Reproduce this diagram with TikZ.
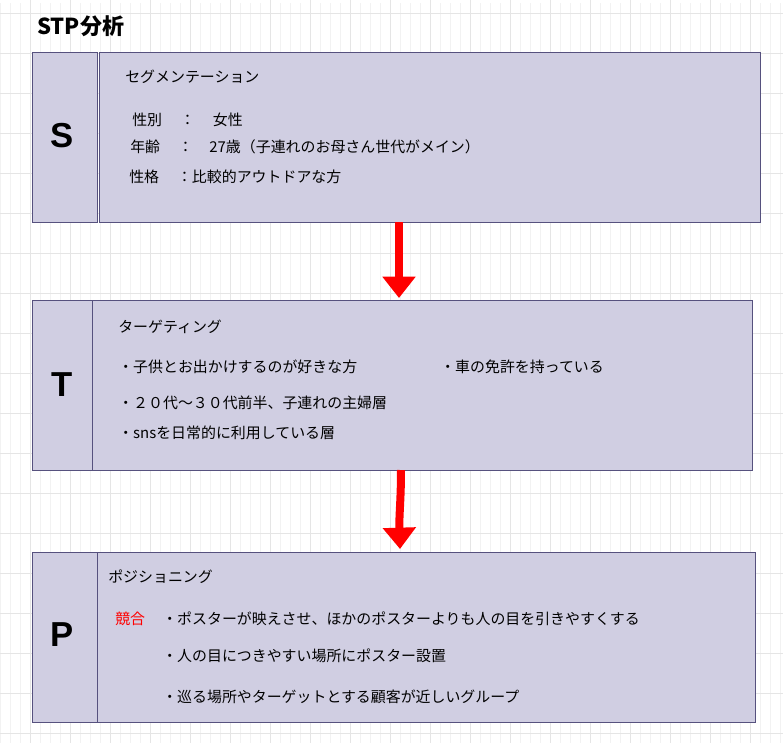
\documentclass[tikz,border=0pt]{standalone}
\usepackage{fontspec}
\setmainfont{Noto Sans CJK JP}
\newfontfamily\arialf{Liberation Sans}
\usetikzlibrary{arrows.meta}
\definecolor{boxfill}{HTML}{D0CEE2}
\definecolor{boxline}{HTML}{56517E}
\begin{document}
\begin{tikzpicture}[x=0.75pt,y=-0.75pt,
  bx/.style={draw=boxline,fill=boxfill,line width=0.6pt},
  big/.style={font=\fontsize{26}{28}\selectfont\bfseries\arialf},
  tx/.style={anchor=west,inner sep=0,font=\fontsize{11.2}{13}\selectfont},
  arr/.style={red,line width=6pt,-{Triangle[length=16pt,width=24pt]}}]
\useasboundingbox (0,0) rectangle (783,743);
\fill[white] (0,0) rectangle (783,743);
\draw[black!5,line width=0.4pt] (0,3) grid[step=10] (783,743);
\foreach \x in {30,70,...,783} \draw[black!10,line width=0.4pt] (\x,0) -- (\x,743);
\foreach \y in {13,53,...,743} \draw[black!10,line width=0.4pt] (0,\y) -- (783,\y);
\node[anchor=west,inner sep=0,font=\fontsize{16.5}{18}\selectfont\bfseries] (title) at (37,26) {STP分析};
% S
\draw[bx] (32,52) rectangle (97,222);
\draw[bx] (99,52) rectangle (760,222);
\node[big] (S) at (62,136) {S};
\node[tx] (s1) at (125,77) {セグメンテーション};
\node[tx] (s2) at (132,120) {性別\hspace{1.2em}：\hspace{1.2em}女性};
\node[tx] (s3) at (130,147) {年齢\hspace{1.2em}：\hspace{1.1em}27歳（子連れのお母さん世代がメイン）};
\node[tx] (s4) at (129,177) {性格\hspace{1.2em}：比較的アウトドアな方};
% T
\draw[bx] (32,300) rectangle (92,470);
\draw[bx] (92,300) rectangle (752,470);
\node[big] (T) at (62,385) {T};
\node[tx] (t1) at (118,327) {ターゲティング};
\node[tx] (t2) at (118,367) {・子供とお出かけするのが好きな方};
\node[tx] (t3) at (440,367) {・車の免許を持っている};
\node[tx] (t4) at (118,403) {・２０代～３０代前半、子連れの主婦層};
\node[tx] (t5) at (118,433) {・snsを日常的に利用している層};
% P
\draw[bx] (32,552) rectangle (97,722);
\draw[bx] (97,552) rectangle (755,722);
\node[big] (P) at (62,635) {P};
\node[tx] (p1) at (108,577) {ポジショニング};
\node[tx,text=red] (p0) at (115,619) {競合};
\node[tx] (p2) at (162,619) {・ポスターが映えさせ、ほかのポスターよりも人の目を引きやすくする};
\node[tx] (p3) at (162,656) {・人の目につきやすい場所にポスター設置};
\node[tx] (p4) at (162,697) {・巡る場所やターゲットとする顧客が近しいグループ};
\coordinate (a1) at (399,222); \coordinate (b1) at (399,298);
\coordinate (a2) at (401,470); \coordinate (b2) at (400,549);
\draw[arr] (a1) -- (b1);
\draw[arr] (a2) .. controls (401,500) and (399,515) .. (b2);
\end{tikzpicture}
\end{document}
